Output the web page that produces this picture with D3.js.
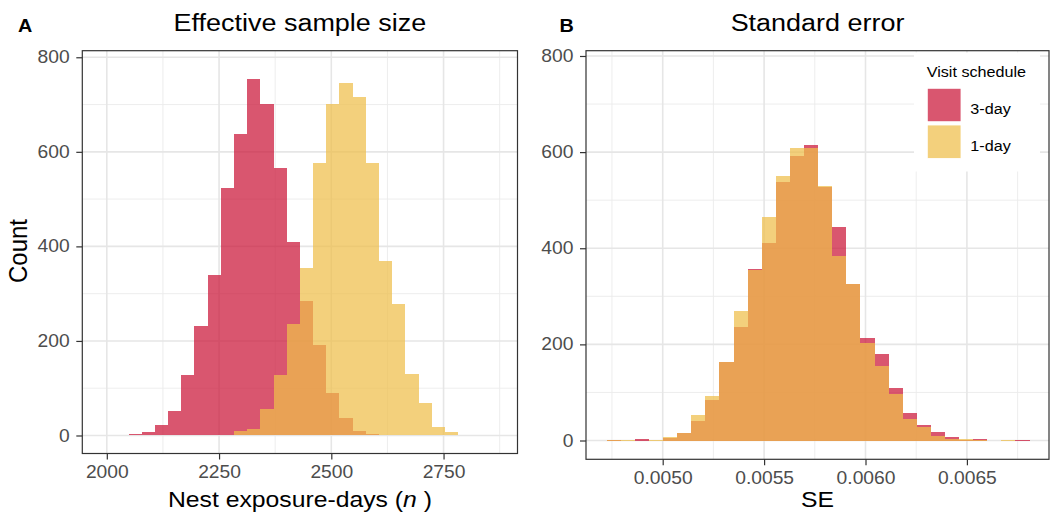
<!DOCTYPE html>
<html>
<head>
<meta charset="utf-8">
<script src="https://cdn.jsdelivr.net/npm/d3@7"></script>
<style>
  body { margin: 0; background: #fff; }
  svg { display: block; font-family: "Liberation Sans", Arial, sans-serif; }
</style>
</head>
<body>
<div class="charts-container"></div>
<script>
"use strict";

// Visit schedules, in legend order
const schedules = ["3-day", "1-day"];

// Panel A: nest exposure-days, histogram bin edges and counts
const exposureBinEdges = [
  2048.3, 2077.7, 2107.0, 2136.4, 2165.8, 2195.2, 2224.5, 2253.9, 2283.3,
  2312.6, 2342.0, 2371.4, 2400.7, 2430.1, 2459.5, 2488.9, 2518.2, 2547.6,
  2577.0, 2606.3, 2635.7, 2665.1, 2694.4, 2723.8, 2753.2, 2782.6
];
const exposureCounts3Day = [
  4, 7, 22, 52, 128, 232, 340, 524, 638, 755, 701, 566, 409,
  284, 191, 89, 36, 10, 4, 1, 0, 0, 0, 0, 0
];
const exposureCounts1Day = [
  0, 0, 0, 0, 0, 0, 0, 1, 10, 14, 56, 128, 236,
  355, 577, 702, 745, 717, 577, 369, 279, 131, 69, 18, 8
];
const exposureTicks = [2000, 2250, 2500, 2750];

// Panel B: standard error, histogram bin edges and counts
const seBinEdges = [
  0.0047240, 0.0047935, 0.0048630, 0.0049325, 0.0050020, 0.0050715,
  0.0051410, 0.0052105, 0.0052800, 0.0053495, 0.0054190, 0.0054885,
  0.0055580, 0.0056275, 0.0056970, 0.0057665, 0.0058360, 0.0059055,
  0.0059750, 0.0060445, 0.0061140, 0.0061835, 0.0062530, 0.0063225,
  0.0063920, 0.0064615, 0.0065310, 0.0066005, 0.0066700, 0.0067395,
  0.0068090
];
const seCounts3Day = [
  1, 0, 3, 0, 5, 16, 40, 85, 164, 236, 357, 410, 538, 591, 615,
  528, 444, 326, 213, 180, 110, 57, 33, 17, 7, 2, 3, 0, 0, 1
];
const seCounts1Day = [
  1, 1, 0, 1, 7, 16, 53, 92, 164, 270, 354, 466, 551, 608, 608,
  530, 384, 326, 203, 156, 97, 45, 28, 10, 4, 3, 1, 0, 1, 0
];
const seTicks = [0.0050, 0.0055, 0.0060, 0.0065];

const countTicks = [0, 200, 400, 600, 800];

const colors = { "3-day": "#cb1739", "1-day": "#efbf4c" };
const barOpacity = 0.73;
const textStretch = "scale(1.1, 1)";

const width = 1053;
const height = 517;

const svg = d3.select(".charts-container")
  .append("svg")
    .attr("width", width)
    .attr("height", height);

function drawPanel(opts) {
  const xScale = d3.scaleLinear()
    .domain(opts.xDomain)
    .range([opts.left, opts.right]);

  const yScale = d3.scaleLinear()
    .domain(opts.yDomain)
    .range([opts.bottom, opts.top]);

  const panel = svg.append("g");

  // Grid: minor lines first, then major
  const xMinor = opts.xTicks.map((t, i) => t - opts.xStep / 2)
    .concat([opts.xTicks[opts.xTicks.length - 1] + opts.xStep / 2]);
  const yMinor = [100, 300, 500, 700];

  panel.selectAll("line.x-minor")
    .data(xMinor.filter(d => xScale(d) > opts.left && xScale(d) < opts.right))
    .join("line")
      .attr("x1", d => xScale(d))
      .attr("x2", d => xScale(d))
      .attr("y1", opts.top)
      .attr("y2", opts.bottom)
      .attr("stroke", "#ebebeb")
      .attr("stroke-width", 0.9);

  panel.selectAll("line.y-minor")
    .data(yMinor)
    .join("line")
      .attr("x1", opts.left)
      .attr("x2", opts.right)
      .attr("y1", d => yScale(d))
      .attr("y2", d => yScale(d))
      .attr("stroke", "#ebebeb")
      .attr("stroke-width", 0.9);

  panel.selectAll("line.x-major")
    .data(opts.xTicks)
    .join("line")
      .attr("x1", d => xScale(d))
      .attr("x2", d => xScale(d))
      .attr("y1", opts.top)
      .attr("y2", opts.bottom)
      .attr("stroke", "#e6e6e6")
      .attr("stroke-width", 1.6);

  panel.selectAll("line.y-major")
    .data(countTicks)
    .join("line")
      .attr("x1", opts.left)
      .attr("x2", opts.right)
      .attr("y1", d => yScale(d))
      .attr("y2", d => yScale(d))
      .attr("stroke", "#e6e6e6")
      .attr("stroke-width", 1.6);

  // Histogram bars, 3-day first and 1-day on top
  schedules.forEach(s => {
    const counts = opts.counts[s];
    panel.append("g")
      .selectAll("rect")
      .data(counts.map((c, i) => ({ x0: opts.edges[i], x1: opts.edges[i + 1], c })))
      .join("rect")
        .attr("x", d => xScale(d.x0))
        .attr("width", d => xScale(d.x1) - xScale(d.x0))
        .attr("y", d => yScale(d.c))
        .attr("height", d => yScale(0) - yScale(d.c))
        .attr("fill", colors[s])
        .attr("fill-opacity", barOpacity)
        .attr("shape-rendering", "crispEdges");
  });

  // Axes
  const xAxis = d3.axisBottom(xScale)
    .tickValues(opts.xTicks)
    .tickFormat(opts.tickFormat)
    .tickSize(6);

  const yAxis = d3.axisLeft(yScale)
    .tickValues(countTicks)
    .tickSize(6);

  const gx = panel.append("g")
    .attr("transform", `translate(0, ${opts.bottom})`)
    .call(xAxis);

  const gy = panel.append("g")
    .attr("transform", `translate(${opts.left}, 0)`)
    .call(yAxis);

  [gx, gy].forEach(g => {
    g.select(".domain").remove();
    g.selectAll(".tick line")
      .attr("stroke", "#333333")
      .attr("stroke-width", 1.2);
    g.selectAll(".tick text")
      .attr("fill", "#4d4d4d")
      .attr("font-size", 17.5)
      .attr("font-family", "Liberation Sans, Arial, sans-serif")
      .attr("transform", textStretch);
  });
  gx.selectAll(".tick text").attr("y", 12.5);
  gy.selectAll(".tick text").attr("x", -11.5);

  // Panel border
  panel.append("rect")
    .attr("x", opts.left)
    .attr("y", opts.top)
    .attr("width", opts.right - opts.left)
    .attr("height", opts.bottom - opts.top)
    .attr("fill", "none")
    .attr("stroke", "#333333")
    .attr("stroke-width", 1.2);

  // Title and panel tag
  const midX = (opts.left + opts.right) / 2;

  svg.append("text")
    .attr("transform", `translate(${midX}, 31) ${textStretch}`)
    .attr("text-anchor", "middle")
    .attr("font-size", 24.5)
    .attr("fill", "#000")
    .text(opts.title);

  svg.append("text")
    .attr("transform", `translate(${opts.tagX}, 31.5) ${textStretch}`)
    .attr("font-size", 18)
    .attr("font-weight", "bold")
    .attr("fill", "#000")
    .text(opts.tag);

  // X axis title
  const xTitle = svg.append("text")
    .attr("transform", `translate(${midX}, 506.5) ${textStretch}`)
    .attr("text-anchor", "middle")
    .attr("font-size", 22.5)
    .attr("fill", "#000");

  if (opts.xLabelItalic) {
    xTitle.append("tspan").text(opts.xLabel);
    xTitle.append("tspan").attr("font-style", "italic").text(opts.xLabelItalic);
    xTitle.append("tspan").text(" )");
  } else {
    xTitle.text(opts.xLabel);
  }

  return { xScale, yScale };
}

drawPanel({
  left: 82.3, right: 517.5, top: 50.7, bottom: 453.5,
  xDomain: [1945.4, 2914.7],
  yDomain: [-38.1, 813.9],
  xTicks: exposureTicks,
  xStep: 250,
  tickFormat: d3.format("d"),
  edges: exposureBinEdges,
  counts: { "3-day": exposureCounts3Day, "1-day": exposureCounts1Day },
  title: "Effective sample size",
  tag: "A",
  tagX: 18,
  xLabel: "Nest exposure-days (",
  xLabelItalic: "n"
});

drawPanel({
  left: 586, right: 1049, top: 50.7, bottom: 459.3,
  xDomain: [0.0046218, 0.0069048],
  yDomain: [-39.1, 811],
  xTicks: seTicks,
  xStep: 0.0005,
  tickFormat: d3.format(".4f"),
  edges: seBinEdges,
  counts: { "3-day": seCounts3Day, "1-day": seCounts1Day },
  title: "Standard error",
  tag: "B",
  tagX: 559.5,
  xLabel: "SE"
});

// Y axis title (panel A only)
svg.append("text")
  .attr("transform", `translate(26.5, 251) ${textStretch} rotate(-90)`)
  .attr("text-anchor", "middle")
  .attr("font-size", 24)
  .attr("fill", "#000")
  .text("Count");

// Legend inside panel B
const legend = svg.append("g");

legend.append("rect")
  .attr("x", 914)
  .attr("y", 52.5)
  .attr("width", 126)
  .attr("height", 119)
  .attr("fill", "#fff");

legend.append("text")
  .attr("transform", `translate(926.7, 77) ${textStretch}`)
  .attr("font-size", 14.7)
  .attr("fill", "#000")
  .text("Visit schedule");

const legendItems = legend.selectAll("g.item")
  .data(schedules)
  .join("g")
    .attr("class", "item")
    .attr("transform", (d, i) => `translate(927.3, ${88.3 + i * 36.7})`);

legendItems.append("rect")
  .attr("width", 33.7)
  .attr("height", 33.4)
  .attr("fill", d => colors[d])
  .attr("fill-opacity", barOpacity)
  .attr("stroke", "#fff")
  .attr("stroke-width", 0.8);

legendItems.append("text")
  .attr("transform", `translate(43, 25.5) ${textStretch}`)
  .attr("font-size", 14.7)
  .attr("fill", "#000")
  .text(d => d);
</script>
</body>
</html>
